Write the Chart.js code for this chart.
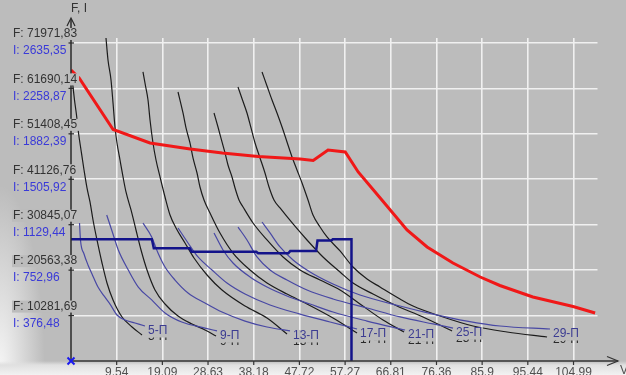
<!DOCTYPE html>
<html><head><meta charset="utf-8">
<script src="https://cdn.jsdelivr.net/npm/chart.js@4/dist/chart.umd.min.js"></script>
<style>
html,body{margin:0;padding:0;width:626px;height:375px;overflow:hidden;}
body{background:
 linear-gradient(to bottom, rgba(236,236,236,0) 0, rgba(236,236,236,0) 361px, rgba(224,224,224,1) 365px, rgba(242,242,242,1) 375px),
 radial-gradient(ellipse 45px 190px at 0 375px, rgba(250,250,250,0.95), rgba(250,250,250,0)),
 #bcbcbc;}
canvas{display:block;}
</style></head><body>
<canvas id="c" width="626" height="375"></canvas>
<script>
// ---- tick labels ----
const xTickLabels = ["9.54","19.09","28.63","38.18","47.72","57.27","66.81","76.36","85.9","95.44","104.99"];
const fTickLabels = ["10281,69","20563,38","30845,07","41126,76","51408,45","61690,14","71971,83"];
const iTickLabels = ["376,48","752,96","1129,44","1505,92","1882,39","2258,87","2635,35"];
const positions = ["5-П","9-П","13-П","17-П","21-П","25-П","29-П"];

// ---- traction limit (red) F(V) ----
const tractionV = [0,1.7,8.8,16.5,24.9,31.6,39.1,47.9,50.6,53.7,57.3,60.0,64.6,70.2,74.4,79.8,85.5,89.6,96.5,104.9,109.5];
const tractionF = [65860,64050,52400,49340,47980,47080,46280,45720,45380,47760,47300,42780,36890,29650,25800,22180,19010,17090,14490,12340,10860];

// ---- current limit (dark blue step) I(V) ----
const currentV = [0,16.9,17.3,24.8,25.2,38.7,39.1,45.4,45.8,51.2,51.5,54.4,54.7,58.6,58.6];
const currentI = [1008,1008,934,934,906,906,893,893,911,911,998,998,1008,1008,0];

// ---- force curves F(V) per position (black) ----
const f5V = [0.31,0.73,1.15,1.57,2.09,2.72,3.34,3.97,4.60,5.43,6.48,7.52,8.78,10.66,12.75,14.83];
const f5F = [63150,59070,55680,51600,47760,43230,39160,35990,31910,27390,22180,17650,13810,9960,7700,5890];
const f9V = [7.31,7.73,8.36,8.78,9.19,9.61,10.24,10.87,11.49,12.54,13.58,14.63,15.88,17.55,19.64,22.36,25.28,28.00,30.30];
const f9F = [73100,68130,63600,58390,52960,49340,45490,41650,38250,34180,29650,25120,20600,16070,12900,10190,8370,7020,5660];
const f13V = [15.04,15.57,16.09,16.51,17.13,17.76,18.60,19.64,20.69,21.94,23.82,25.70,28.42,31.55,36.36,40.95,45.13];
const f13F = [65410,62240,59070,54550,49340,45490,41650,37120,33040,30100,26710,23310,19460,16070,12450,9730,6110];
const f17V = [22.36,23.40,24.03,24.86,25.49,26.33,26.95,27.79,29.04,31.13,33.85,37.40,40.95,45.13,49.31,54.74,59.76];
const f17F = [60880,56130,52740,49340,45950,42550,39380,36440,33500,28970,24440,20600,17650,15160,12900,9730,6340];
const f21V = [29.88,30.71,31.55,32.18,32.80,33.64,34.27,35.10,35.94,38.03,40.95,44.30,47.85,52.03,56.21,60.38,65.19,69.58];
const f21F = [56130,52960,49570,47080,44360,41650,39160,36440,34860,31230,27390,23540,20600,18330,16070,12900,9280,6560];
const f25V = [34.89,35.83,36.77,37.61,38.45,39.49,40.53,41.37,42.41,43.67,46.39,49.31,52.65,56.21,58.92,63.10,68.12,73.55,79.61];
const f25F = [62010,59070,56130,52740,49340,45950,42550,39380,36440,34630,31010,27390,23540,20140,17650,15160,12450,9960,6790];
const f29V = [39.91,40.95,42.00,43.04,44.09,45.13,46.18,47.22,48.27,49.52,50.56,52.03,53.49,56.21,58.92,61.85,64.56,68.74,71.46,77.10,84.00,91.10,99.46];
const f29F = [65410,62240,59070,56130,52960,49570,46170,43230,40290,36440,33040,30330,28070,24900,21280,18560,16750,14030,12450,10190,7920,6560,5430];

// ---- current curves I(V) per position (blue) ----
const i5V = [1.78,1.98,2.72,3.55,4.39,5.64,6.90,8.15,9.61,11.28,13.37,15.46];
const i5I = [1144,1003,887,796,721,613,539,472,381,340,315,290];
const i9V = [7.46,8.50,9.88,11.97,14.06,16.86,19.64,23.13,28.00,30.51];
const i9I = [1210,1086,920,754,613,506,398,323,273,249];
const i13V = [15.04,16.86,18.18,19.64,21.73,24.45,28.00,31.55,36.36,40.95,45.76];
const i13I = [1144,1028,895,779,671,564,481,406,331,282,249];
const i17V = [22.36,24.45,26.54,29.46,32.59,36.36,41.58,47.85,54.12,59.76];
const i17I = [1102,978,862,754,646,555,464,389,323,265];
const i21V = [29.88,31.76,33.85,37.40,40.95,45.13,49.94,54.74,61.85,69.79];
const i21I = [1061,920,812,696,613,539,472,406,331,257];
const i25V = [34.89,36.77,38.86,41.58,45.13,49.31,54.74,61.85,68.74,75.64,79.82];
const i25I = [1110,1003,862,754,671,588,514,439,365,307,273];
const i29V = [39.91,41.58,43.67,46.39,49.94,54.74,60.38,68.74,75.64,82.74,89.64,100.08];
const i29I = [1152,1061,945,837,738,638,547,456,389,331,290,265];

// ---- build ----
const num = s => parseFloat(s.replace(',', '.'));
const xTicks = xTickLabels.map(num);
const fTicks = fTickLabels.map(num);
const iTicks = iTickLabels.map(num);
const F_STEP = fTicks[0], I_STEP = iTicks[0];
const X_MAX = 110;
const Y_MAX = 73100;
const Y2_MAX = Y_MAX * I_STEP / F_STEP;

const pts = (xs, ys) => xs.map((x, i) => ({x, y: ys[i]}));
const forceSets = [[f5V,f5F],[f9V,f9F],[f13V,f13F],[f17V,f17F],[f21V,f21F],[f25V,f25F],[f29V,f29F]];
const currSets = [[i5V,i5I],[i9V,i9I],[i13V,i13I],[i17V,i17I],[i21V,i21I],[i25V,i25I],[i29V,i29I]];

const BG = '#bcbcbc';
const datasets = [
  {data: pts(tractionV, tractionF), borderColor:'#f01818', borderWidth:3, yAxisID:'y', tension:0},
  {data: pts(currentV, currentI), borderColor:'#13138a', borderWidth:2.5, yAxisID:'y2', tension:0},
];
currSets.forEach(([v,i]) => datasets.push({data: pts(v,i), borderColor:'#4848a4', borderWidth:1.2, yAxisID:'y2', cubicInterpolationMode:'monotone'}));
forceSets.forEach(([v,f]) => datasets.push({data: pts(v,f), borderColor:'#1c1c1c', borderWidth:1.2, yAxisID:'y', cubicInterpolationMode:'monotone'}));

const decor = {
  id: 'decor',
  afterDatasetsDraw(chart) {
    const ctx = chart.ctx, xs = chart.scales.x, ys = chart.scales.y, y2 = chart.scales.y2;
    const x0 = xs.getPixelForValue(0), y0 = ys.getPixelForValue(0);
    ctx.save();
    // curve labels
    ctx.font = '12px Arial, "Liberation Sans", sans-serif';
    ctx.textBaseline = 'middle'; ctx.textAlign = 'left';
    currSets.forEach(([v,i], k) => {
      const px = xs.getPixelForValue(v[v.length-1]);
      const py = y2.getPixelForValue(i[i.length-1]);
      const t = positions[k];
      ctx.fillStyle = '#2a2a2a';
      ctx.fillText(t, px + 3, py + 11);
      const w = ctx.measureText(t).width;
      ctx.fillStyle = BG;
      ctx.fillRect(px + 2, py - 1, w + 2, 12.5);
      ctx.fillStyle = '#3c3c92';
      ctx.fillText(t, px + 3, py + 5);
    });
    // y axis
    ctx.strokeStyle = '#2a2a2a'; ctx.lineWidth = 1.5;
    ctx.beginPath(); ctx.moveTo(x0, 19); ctx.lineTo(x0, y0); ctx.stroke();
    ctx.lineWidth = 1.2;
    ctx.beginPath(); ctx.moveTo(x0-4, 26); ctx.lineTo(x0, 18); ctx.lineTo(x0+4, 26); ctx.stroke();
    fTicks.forEach(f => {
      const y = ys.getPixelForValue(f);
      ctx.beginPath(); ctx.moveTo(x0-2.5, y); ctx.lineTo(x0+3, y); ctx.stroke();
    });
    ctx.font = '12px Arial, "Liberation Sans", sans-serif';
    ctx.textAlign = 'left';
    fTicks.forEach((f, k) => {
      const y = ys.getPixelForValue(f);
      const tF = 'F: ' + fTickLabels[k];
      const w = ctx.measureText(tF).width;
      ctx.fillStyle = BG; ctx.fillRect(12, y - 15, w + 3, 12);
      ctx.fillStyle = '#333333'; ctx.fillText(tF, 13, y - 9);
      ctx.fillStyle = '#3a3ad8'; ctx.fillText('I: ' + iTickLabels[k], 13, y + 8);
    });
    ctx.fillStyle = '#333333';
    ctx.fillText('F, I', x0, 9);
    // x axis
    ctx.strokeStyle = '#333333'; ctx.lineWidth = 1.5;
    ctx.beginPath(); ctx.moveTo(x0, y0); ctx.lineTo(618, y0); ctx.stroke();
    ctx.lineWidth = 1.2;
    ctx.beginPath(); ctx.moveTo(607, y0-4.5); ctx.lineTo(618, y0); ctx.lineTo(607, y0+4.5); ctx.stroke();
    ctx.textAlign = 'center';
    ctx.fillStyle = '#505050';
    xTicks.forEach((v, k) => {
      const x = xs.getPixelForValue(v);
      ctx.beginPath(); ctx.moveTo(x, y0); ctx.lineTo(x, y0+4); ctx.stroke();
      ctx.fillText(xTickLabels[k], x, y0 + 12);
    });
    ctx.textAlign = 'left';
    ctx.fillText('V', 620, y0 + 10);
    // origin marker
    ctx.strokeStyle = '#1a1af0'; ctx.lineWidth = 2;
    ctx.beginPath();
    ctx.moveTo(x0-3.5, y0-3.5); ctx.lineTo(x0+3.5, y0+3.5);
    ctx.moveTo(x0+3.5, y0-3.5); ctx.lineTo(x0-3.5, y0+3.5);
    ctx.stroke();
    ctx.restore();
  }
};

const gridStyle = {color:'rgba(240,240,240,1)', lineWidth:1.6, drawTicks:false};
new Chart(document.getElementById('c'), {
  type: 'line',
  data: {datasets},
  options: {
    responsive: false, animation: false,
    layout: {padding: {left:71, right:28.5, top:38, bottom:14}},
    elements: {point: {radius:0}, line: {fill:false}},
    plugins: {legend: {display:false}, tooltip: {enabled:false}},
    scales: {
      x: {type:'linear', min:0, max:X_MAX, grid:gridStyle, border:{display:false}, ticks:{display:false},
          afterBuildTicks: s => { s.ticks = xTicks.map(v => ({value:v})); }},
      y: {type:'linear', min:0, max:Y_MAX, grid:gridStyle, border:{display:false}, ticks:{display:false},
          afterBuildTicks: s => { s.ticks = fTicks.map(v => ({value:v})); }},
      y2: {type:'linear', min:0, max:Y2_MAX, display:false}
    }
  },
  plugins: [decor]
});
</script></body></html>
